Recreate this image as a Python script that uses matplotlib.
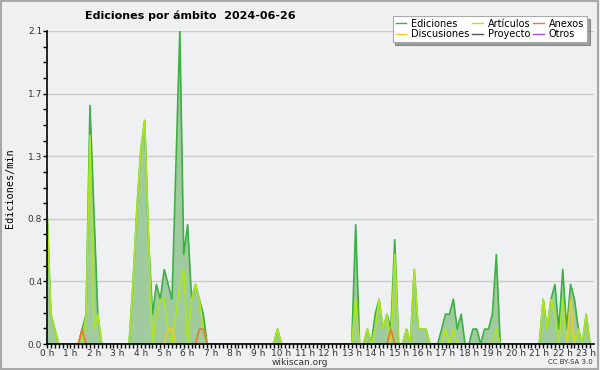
import matplotlib
matplotlib.use("Agg")
import matplotlib.pyplot as plt
from matplotlib.lines import Line2D
import numpy as np

# 10-minute bins, edits per minute, from 0h00 to 23h10
ediciones = (
    [0.9, 0.2, 0.1, 0, 0, 0] +          # 0 h
    [0, 0, 0, 0.1, 0.2, 1.6] +          # 1 h
    [0.9, 0.2, 0, 0, 0, 0] +            # 2 h
    [0, 0, 0, 0, 0.4, 0.9] +            # 3 h
    [1.3, 1.5, 0.7, 0.2, 0.4, 0.3] +    # 4 h
    [0.5, 0.4, 0.3, 1.2, 2.1, 0.6] +    # 5 h
    [0.8, 0.3, 0.4, 0.3, 0.2, 0] +      # 6 h
    [0, 0, 0, 0, 0, 0] +                # 7 h
    [0, 0, 0, 0, 0, 0] +                # 8 h
    [0, 0, 0, 0, 0, 0.1] +              # 9 h
    [0, 0, 0, 0, 0, 0] +                # 10 h
    [0, 0, 0, 0, 0, 0] +                # 11 h
    [0, 0, 0, 0, 0, 0] +                # 12 h
    [0, 0.8, 0, 0, 0.1, 0] +            # 13 h
    [0.2, 0.3, 0.1, 0.2, 0.1, 0.7] +    # 14 h
    [0, 0, 0.1, 0, 0.5, 0.1] +          # 15 h
    [0.1, 0.1, 0, 0, 0, 0.1] +          # 16 h
    [0.2, 0.2, 0.3, 0.1, 0.2, 0] +      # 17 h
    [0, 0.1, 0.1, 0, 0.1, 0.1] +        # 18 h
    [0.2, 0.6, 0, 0, 0, 0] +            # 19 h
    [0, 0, 0, 0, 0, 0] +                # 20 h
    [0, 0.3, 0.1, 0.3, 0.4, 0.1] +      # 21 h
    [0.5, 0.1, 0.4, 0.3, 0.1, 0] +      # 22 h
    [0.2, 0]                            # 23 h
)
articulos = (
    [0.9, 0.2, 0.1, 0, 0, 0] +
    [0, 0, 0, 0, 0.2, 1.4] +
    [0.1, 0.2, 0, 0, 0, 0] +
    [0, 0, 0, 0, 0.4, 0.9] +
    [1.3, 1.5, 0.7, 0, 0.2, 0.3] +
    [0.3, 0.1, 0, 0.2, 0.4, 0.5] +
    [0, 0.3, 0.4, 0.3, 0.1, 0] +
    [0, 0, 0, 0, 0, 0] +
    [0, 0, 0, 0, 0, 0] +
    [0, 0, 0, 0, 0, 0.1] +
    [0, 0, 0, 0, 0, 0] +
    [0, 0, 0, 0, 0, 0] +
    [0, 0, 0, 0, 0, 0] +
    [0, 0.3, 0, 0, 0.1, 0] +
    [0.1, 0.3, 0.1, 0.2, 0, 0.6] +
    [0, 0, 0.1, 0, 0.5, 0.1] +
    [0.1, 0.1, 0, 0, 0, 0] +
    [0.1, 0, 0.1, 0, 0, 0] +
    [0, 0, 0, 0, 0, 0] +
    [0, 0.1, 0, 0, 0, 0] +
    [0, 0, 0, 0, 0, 0] +
    [0, 0.3, 0.1, 0.3, 0.2, 0] +
    [0.3, 0, 0.1, 0, 0.1, 0] +
    [0.2, 0]
)
anexos = [0] * 140
anexos_points = {9: 0.1, 39: 0.1, 40: 0.1, 88: 0.1}
discusiones = [0] * 140
discusiones_points = {31: 0.1, 32: 0.1, 134: 0.3}
proyecto = [0] * 140
otros = [0] * 140

for k, v in anexos_points.items():
    anexos[k] = v
for k, v in discusiones_points.items():
    discusiones[k] = v

hours = np.arange(len(ediciones)) / 6.0

series_names = ["Ediciones", "Discusiones", "Artículos", "Proyecto", "Anexos", "Otros"]
series_colors = {"Ediciones": "#3cb043", "Artículos": "#aee61e", "Anexos": "#f07828",
                 "Discusiones": "#f0c828", "Proyecto": "#555555", "Otros": "#9a4ef0"}

y_ticks = [0, 0.42, 0.84, 1.26, 1.68, 2.1]
y_tick_labels = ["0.0", "0.4", "0.8", "1.3", "1.7", "2.1"]
x_tick_labels = [f"{h} h" for h in range(24)]

bg = "#eff0f1"
fig = plt.figure(figsize=(6.0, 3.7), dpi=100, facecolor=bg)
fig.patches.append(plt.Rectangle((0.001, 0.003), 0.995, 0.994, transform=fig.transFigure,
                                 fill=False, edgecolor="#a8a8a8", linewidth=1.5))
ax = fig.add_axes([47/600, 26/370, (594-47)/600, (344-31)/370])
ax.set_facecolor(bg)

ax.fill_between(hours, ediciones, 0, color="#9fcb9f", linewidth=0, zorder=2)
ax.plot(hours, ediciones, color=series_colors["Ediciones"], lw=1.2, zorder=3)
ax.plot(hours, articulos, color=series_colors["Artículos"], lw=1.2, zorder=4)
ax.plot(hours, discusiones, color=series_colors["Discusiones"], lw=1.2, zorder=5)
ax.plot(hours, anexos, color=series_colors["Anexos"], lw=1.2, zorder=5)

ax.set_xlim(0, 140/6)
ax.set_ylim(0, 2.1)
ax.set_yticks(y_ticks)
ax.set_yticklabels(y_tick_labels)
ax.set_yticks(np.arange(0, 2.1001, 0.105), minor=True)
ax.set_xticks(range(24))
ax.set_xticklabels(x_tick_labels)
ax.set_xticks(np.arange(0, 140) / 6.0, minor=True)
ax.tick_params(axis="both", which="both", direction="out", length=3, width=1,
               labelsize=6.5, colors="black", pad=0.5)
ax.tick_params(axis="x", labelcolor="#333333")
ax.tick_params(axis="y", labelcolor="#333333")
ax.grid(axis="y", which="major", color="#cccccc", lw=1, zorder=1)
ax.set_axisbelow(True)
for side in ["top", "right"]:
    ax.spines[side].set_visible(False)
for side in ["left", "bottom"]:
    ax.spines[side].set_linewidth(1.2)
    ax.spines[side].set_zorder(6)

fig.text(10/600, 1 - 188/370, "Ediciones/min", family="DejaVu Sans Mono", fontsize=7.3,
         rotation=90, ha="center", va="center")

fig.text(85/600, 1 - 16/370, "Ediciones por ámbito  2024-06-26", fontsize=8,
         fontweight="bold", ha="left", va="center")

handles = [Line2D([0], [0], color=series_colors[n], lw=1) for n in series_names]
leg = fig.legend(handles, series_names, ncol=3, loc="upper right",
                 bbox_to_anchor=(592/600, 1 - 11/370), fontsize=7, frameon=True,
                 fancybox=False, shadow=True, edgecolor="#aaaaaa", facecolor="white",
                 framealpha=1, handlelength=1.1, handletextpad=0.5, columnspacing=0.3,
                 labelspacing=0.05, borderpad=0.3)
leg.get_frame().set_linewidth(0.8)

fig.text(300/600, 1 - 362.5/370, "wikiscan.org", fontsize=6.5, ha="center", va="center",
         color="#333333")
fig.text(593/600, 1 - 362.5/370, "CC BY-SA 3.0", fontsize=5, ha="right", va="center",
         color="#333333")

fig.savefig("out.png", dpi=100, facecolor=bg)
